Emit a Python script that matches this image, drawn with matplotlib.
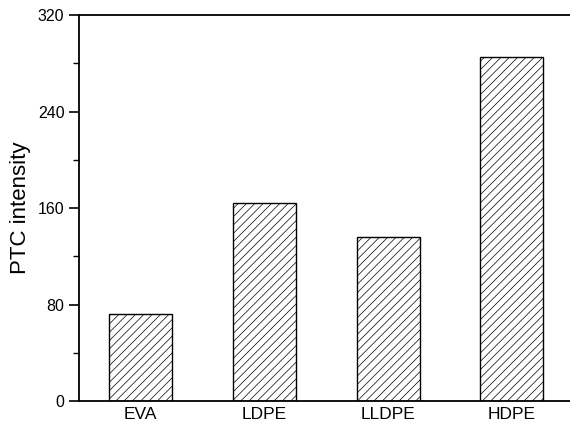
import matplotlib
matplotlib.use('Agg')
import matplotlib.pyplot as plt
from matplotlib.ticker import MultipleLocator

plt.rcParams['font.family'] = ['Liberation Sans', 'DejaVu Sans']
plt.rcParams['hatch.linewidth'] = 0.5
plt.rcParams['hatch.color'] = '#444444'

materials = ['EVA', 'LDPE', 'LLDPE', 'HDPE']
ptc_intensity = [72, 164, 136, 285]

fig = plt.figure(figsize=(5.7, 4.3), dpi=100)
ax = fig.add_axes([0.1386, 0.0674, 0.8614, 0.8976])

x = range(len(materials))
ax.bar(x, ptc_intensity, width=0.51, color='white', edgecolor='black',
       linewidth=1.0, hatch='////')

ax.set_xlim(-0.5, 3.47)
ax.set_ylim(0, 320)
ax.set_xticks(list(x))
ax.set_xticklabels(materials, fontsize=12.5)
ax.yaxis.set_major_locator(MultipleLocator(80))
ax.yaxis.set_minor_locator(MultipleLocator(40))
ax.tick_params(axis='y', which='major', direction='out', length=7, width=1.2,
               labelsize=11.5)
ax.tick_params(axis='y', which='minor', direction='out', length=4, width=1.0)
ax.tick_params(axis='x', length=0, pad=4)
ax.set_ylabel('PTC intensity', fontsize=16, labelpad=5)

ax.spines['right'].set_visible(False)
for s in ['left', 'bottom', 'top']:
    ax.spines[s].set_linewidth(1.3)

fig.savefig('out.png', dpi=100)
